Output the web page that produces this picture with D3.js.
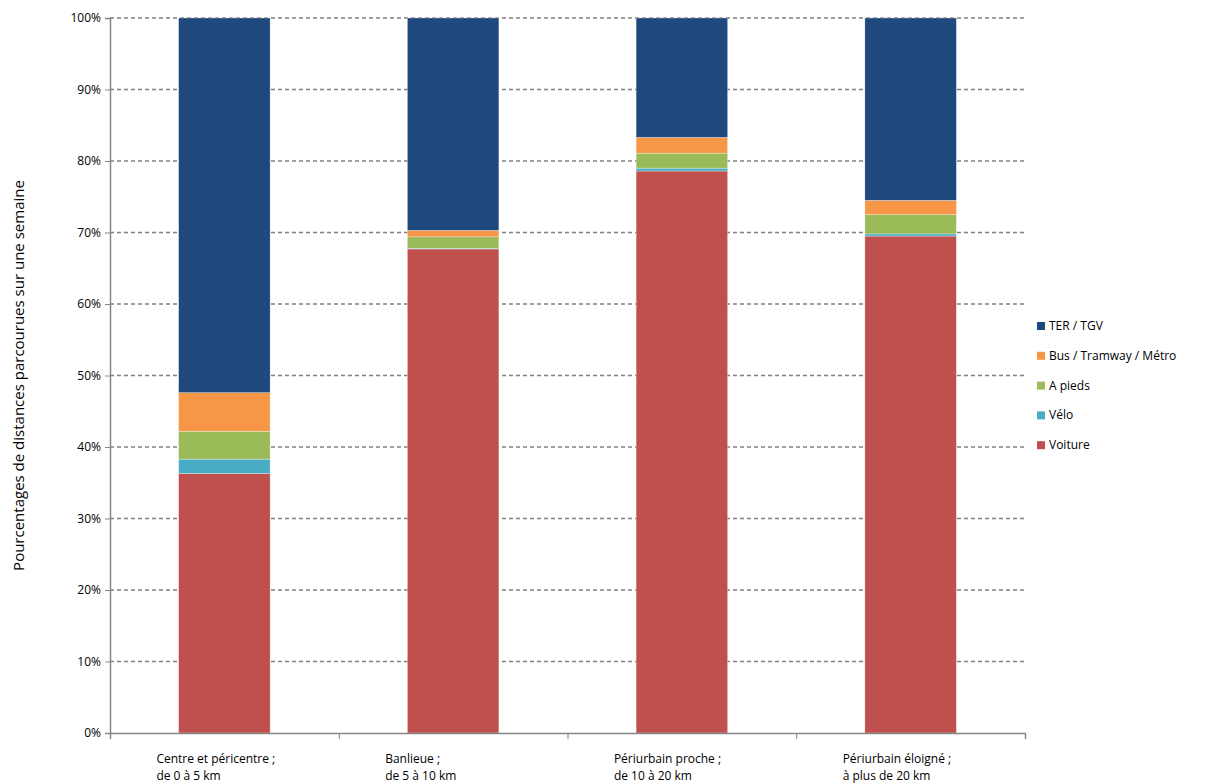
<!DOCTYPE html>
<html><head><meta charset="utf-8">
<script src="https://cdn.jsdelivr.net/npm/d3@7"></script>
<style>body{margin:0;background:#fff}text{font-family:"Open Sans",sans-serif;fill:#000}</style>
</head><body><div id="chart"></div>
<script>
const categories = [["Centre et péricentre ;", "de 0 à 5 km"], ["Banlieue ;", "de 5 à 10 km"], ["Périurbain proche ;", "de 10 à 20 km"], ["Périurbain éloigné ;", "à plus de 20 km"]];
const seriesNames = ["Voiture", "Vélo", "A pieds", "Bus / Tramway / Métro", "TER / TGV"];
const seriesColors = ["#c0504d", "#4bacc6", "#9bbb59", "#f79646", "#1f497d"];
const voiture = [36.3, 67.7, 78.6, 69.5];
const velo = [2.0, 0.1, 0.4, 0.3];
const aPieds = [3.9, 1.6, 2.1, 2.7];
const bus = [5.4, 0.9, 2.2, 2.0];
const ter = [52.4, 29.7, 16.7, 25.5];
const yTicks = [0, 10, 20, 30, 40, 50, 60, 70, 80, 90, 100];

const W = 1225, H = 784;
const m = {left: 110, right: 200, top: 18, bottom: 51};
const svg = d3.select("#chart").append("svg").attr("width", W).attr("height", H);

const x = d3.scaleBand().domain(d3.range(categories.length)).range([m.left, W - m.right]).paddingInner(0.6).paddingOuter(0.3);
const y = d3.scaleLinear().domain([0, 100]).range([H - m.bottom, m.top]);

// gridlines
svg.append("g").selectAll("line").data(yTicks.filter(d => d > 0)).join("line")
  .attr("x1", m.left).attr("x2", W - m.right).attr("y1", d => y(d)).attr("y2", d => y(d))
  .attr("stroke", "#808080").attr("stroke-width", 1.5).attr("stroke-dasharray", "4,3");

// stacked bars
const rows = categories.map((c, i) => ({i, "Voiture": voiture[i], "Vélo": velo[i], "A pieds": aPieds[i], "Bus / Tramway / Métro": bus[i], "TER / TGV": ter[i]}));
const stack = d3.stack().keys(seriesNames)(rows);
svg.append("g").selectAll("g").data(stack).join("g").attr("fill", (d, k) => seriesColors[k])
  .selectAll("rect").data(d => d).join("rect")
  .attr("x", d => x(d.data.i)).attr("width", x.bandwidth())
  .attr("y", d => y(d[1])).attr("height", d => y(d[0]) - y(d[1]))
  .attr("stroke", "#fff").attr("stroke-opacity", 0.5).attr("stroke-width", 0.6);

// y axis
const ya = svg.append("g").attr("transform", `translate(${m.left},0)`)
  .call(d3.axisLeft(y).tickValues(yTicks).tickFormat(d => d + "%").tickSize(5).tickPadding(4));
ya.select(".domain").attr("stroke", "#868686").attr("stroke-width", 1.5);
ya.selectAll(".tick line").attr("stroke", "#868686");
ya.selectAll("text").style("font-size", "12px");

// x axis
const xl = d3.scaleLinear().domain([0, categories.length]).range([m.left, W - m.right]);
const xa = svg.append("g").attr("transform", `translate(0,${H - m.bottom})`)
  .call(d3.axisBottom(xl).ticks(4).tickFormat("").tickSize(6));
xa.select(".domain").attr("stroke", "#868686").attr("stroke-width", 1.5);
xa.selectAll(".tick line").attr("stroke", "#868686");

svg.append("g").selectAll("text").data(categories).join("text")
  .attr("x", (d, i) => x(i) + x.bandwidth() / 2 - 68).attr("y", H - m.bottom + 30)
  .style("font-size", "12px")
  .selectAll("tspan").data(d => d).join("tspan")
  .attr("x", function() { return d3.select(this.parentNode).attr("x"); })
  .attr("dy", (d, j) => j ? 17 : 0).text(d => d);

// y title
svg.append("text").attr("transform", `translate(24,${(m.top + H - m.bottom) / 2}) rotate(-90)`)
  .attr("text-anchor", "middle").style("font-size", "15px")
  .text("Pourcentages de distances parcourues sur une semaine");

// legend (top entry = last series)
const leg = svg.append("g").selectAll("g").data(seriesNames.slice().reverse()).join("g")
  .attr("transform", (d, i) => `translate(1037,${326 + i * 29.8})`);
leg.append("rect").attr("x", 0).attr("y", -4).attr("width", 8).attr("height", 8)
  .attr("fill", d => seriesColors[seriesNames.indexOf(d)]);
leg.append("text").attr("x", 12).attr("y", 4).style("font-size", "12px").text(d => d);
</script></body></html>
